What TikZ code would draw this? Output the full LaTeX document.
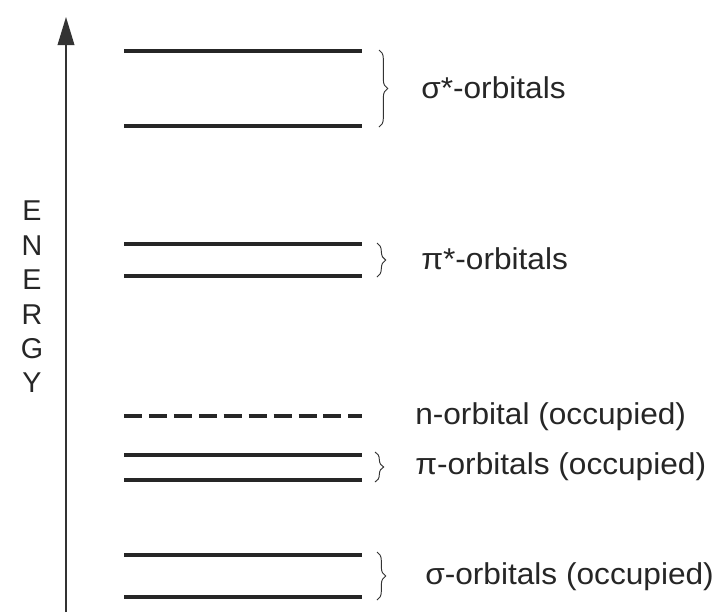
\documentclass[tikz,border=0pt]{standalone}
\usepackage{fontspec}
\setmainfont{Liberation Sans}
\newfontfamily\widesans[FakeStretch=1.05]{Liberation Sans}
\usetikzlibrary{arrows.meta,decorations.pathreplacing}
\begin{document}
\begin{tikzpicture}[x=0.75pt,y=-0.75pt,
  level/.style={line width=2.3pt,black!85},
  nlevel/.style={line width=2.3pt,black!85,dash pattern=on 13.5pt off 5.2pt},
  grp/.style={decorate,decoration={brace,amplitude=6.5pt},line width=0.7pt,black!80},
  lbl/.style={anchor=west,inner sep=0pt,font=\widesans\fontsize{22.6}{27}\selectfont,text=black!85},
  axislbl/.style={inner sep=0pt,font=\fontsize{21.5}{25}\selectfont,text=black!85}]
\useasboundingbox (0,0) rectangle (718,612);
\fill[white] (0,0) rectangle (718,612);

% energy axis
\coordinate (ax0) at (66,612);
\coordinate (ax1) at (66,17);
\draw[line width=1.1pt,black!80,-{Triangle[length=21pt,width=12.5pt]}] (ax0) -- (ax1);
\foreach \ch [count=\i from 0] in {E,N,E,R,G,Y}
  \node[axislbl] (e\i) at (32,{211+34.4*\i}) {\ch};

% energy levels
\foreach \nm/\y in {ss1/51,ss2/126,ps1/244,ps2/276,p1/455,p2/480,s1/555,s2/597}{
  \coordinate (\nm a) at (124,\y);
  \coordinate (\nm b) at (362,\y);
  \draw[level] (\nm a) -- (\nm b);
}
\coordinate (na) at (124,416);
\coordinate (nb) at (362,416);
\draw[nlevel] (na) -- (nb);

% braces grouping the levels
\coordinate (bss1) at (379,50);  \coordinate (bss2) at (379,127);
\coordinate (bps1) at (377,243); \coordinate (bps2) at (377,277);
\coordinate (bp1)  at (375,452); \coordinate (bp2)  at (375,482);
\coordinate (bs1)  at (377,552); \coordinate (bs2)  at (377,600);
\draw[grp] (bss1) -- (bss2);
\draw[grp] (bps1) -- (bps2);
\draw[grp] (bp1) -- (bp2);
\draw[grp] (bs1) -- (bs2);

% labels
\node[lbl] (lss) at (421,88)  {σ*-orbitals};
\node[lbl] (lps) at (421,259) {π*-orbitals};
\node[lbl] (ln)  at (415,417) {n-orbital (occupied)};
\node[lbl] (lp)  at (415,467) {π-orbitals (occupied)};
\node[lbl] (ls)  at (425,577) {σ-orbitals (occupied)};
\end{tikzpicture}
\end{document}
